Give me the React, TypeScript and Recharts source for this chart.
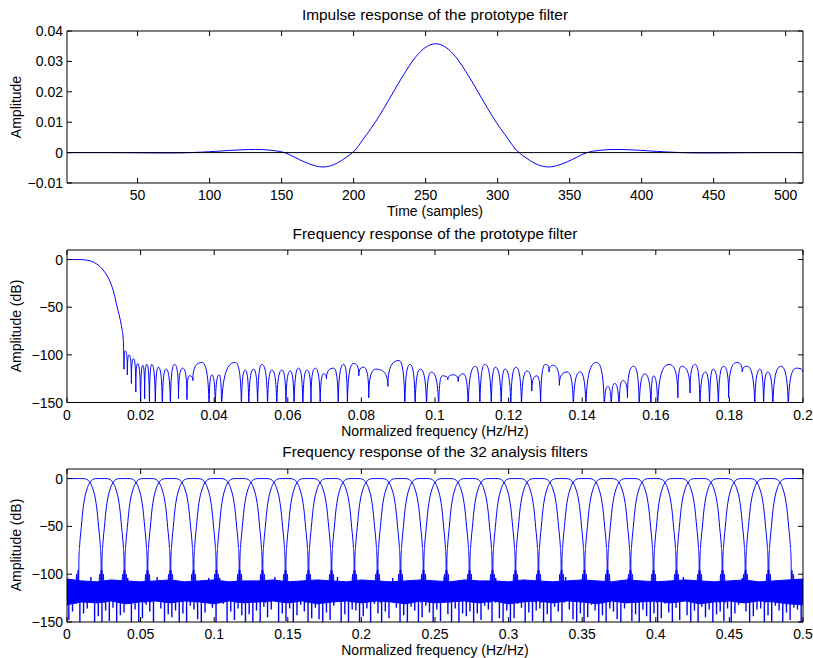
import React from 'react';
import { ComposedChart, Line, Area, XAxis, YAxis, ReferenceLine } from 'recharts';

const BLUE = '#0000ff';
const FONT = '"Liberation Sans", Arial, Helvetica, sans-serif';
const TICK_LEN = 5;

// ---- impulse response of the prototype filter ----
const IMP_T = [1, 32, 47, 62, 77, 92, 107, 117, 127, 136, 144, 152, 159, 166, 173, 180, 188, 195, 201, 206, 212, 218, 224, 230, 236, 242, 248, 253, 257,
  261, 266, 272, 278, 284, 290, 296, 302, 308, 313, 319, 326, 334, 341, 348, 355, 362, 370, 378, 387, 397, 407, 422, 437, 452, 467, 482, 512];
const IMP_V = [0, 0, -0.00005, -0.0001, -0.0001, 0.0001, 0.0005, 0.0008, 0.001, 0.001, 0.0007, 0, -0.0015, -0.0031, -0.0043, -0.0047, -0.0036, -0.0015, 0.0008, 0.004, 0.0079, 0.0122, 0.017, 0.0219, 0.0266, 0.0308, 0.0339, 0.0354, 0.0358,
  0.0354, 0.0339, 0.0308, 0.0266, 0.0219, 0.017, 0.0122, 0.0079, 0.004, 0.0008, -0.0015, -0.0036, -0.0047, -0.0043, -0.0031, -0.0015, 0, 0.0007, 0.001, 0.001, 0.0008, 0.0005, 0.0001, -0.0001, -0.0001, -0.00005, 0, 0];
const IMP_XTICKS = [50, 100, 150, 200, 250, 300, 350, 400, 450, 500];
const IMP_YTICKS = [-0.01, 0, 0.01, 0.02, 0.03, 0.04];

// ---- frequency response of the prototype filter (dB) ----
const PROTO_F = [0, 0.002, 0.004, 0.005, 0.006, 0.007, 0.008, 0.009, 0.01, 0.011, 0.012, 0.0126, 0.013, 0.0137, 0.0144, 0.0149, 0.0153,
  0.0155, 0.01587, 0.0164, 0.01687, 0.0175, 0.01805, 0.0187, 0.01923, 0.02, 0.02059, 0.0211, 0.02168, 0.0224, 0.02304, 0.024, 0.02485,
  0.0259, 0.02694, 0.0281, 0.0292, 0.0303, 0.03147, 0.0326, 0.0333, 0.0342, 0.03664, 0.0386, 0.03936, 0.0403, 0.04136, 0.042, 0.04571,
  0.0474, 0.04843, 0.0494, 0.0507, 0.0518, 0.05297, 0.0545, 0.05569, 0.057, 0.05841, 0.0595, 0.06068, 0.0617, 0.06294, 0.0641, 0.06521,
  0.0663, 0.06748, 0.0688, 0.0697, 0.0705, 0.07247, 0.0737, 0.07519, 0.0762, 0.07791, 0.0793, 0.0806, 0.082, 0.084, 0.0872, 0.0902,
  0.0918, 0.0932, 0.0946, 0.096, 0.0977, 0.099, 0.101, 0.102, 0.1035, 0.105, 0.1063, 0.1077, 0.109, 0.111, 0.1122, 0.1136, 0.1153,
  0.1164, 0.118, 0.119, 0.1206, 0.122, 0.1235, 0.125, 0.1263, 0.1277, 0.1287, 0.13, 0.131, 0.132, 0.1338, 0.136, 0.1376, 0.1394, 0.141,
  0.1439, 0.146, 0.147, 0.1479, 0.1488, 0.15, 0.151, 0.1523, 0.154, 0.1555, 0.157, 0.1587, 0.1594, 0.1605, 0.1636, 0.166, 0.167, 0.1693,
  0.1707, 0.172, 0.1735, 0.1746, 0.1756, 0.177, 0.1784, 0.1798, 0.182, 0.1835, 0.1848, 0.1869, 0.1883, 0.1893, 0.1904, 0.1918, 0.194,
  0.196, 0.1982, 0.2];
const PROTO_DB = [0, 0, -0.1, -0.4, -1.1, -2.4, -4.5, -7.5, -12, -17.5, -26, -33, -39, -51, -62, -72, -84,
  -115, -96, -121, -100, -130, -104, -139, -109, -165, -111, -146, -110, -165, -110, -165, -113,
  -165, -115, -165, -110, -146, -114, -147, -122, -127, -108, -165, -121, -165, -121, -165, -108,
  -165, -116, -165, -115, -165, -110, -165, -116, -165, -116, -160, -117, -165, -114, -165, -116,
  -150, -114, -160, -120, -125, -114, -160, -110, -160, -109, -122, -113, -145, -115, -133, -106,
  -165, -110, -165, -115, -165, -118, -165, -122, -126, -121, -128, -120, -165, -112, -165, -110, -165,
  -113, -165, -115, -165, -113, -165, -117, -138, -122, -160, -110, -118, -111, -132, -118, -165, -118, -165,
  -108, -165, -133, -165, -130, -165, -127, -145, -112, -165, -120, -165, -122, -165, -110, -145, -112, -140,
  -110, -165, -118, -165, -115, -165, -112, -145, -108, -118, -112, -165, -115, -165, -118, -165, -112,
  -165, -114, -118];
const PASSBAND_END = 0.0155;
const PROTO_XTICKS = [0, 0.02, 0.04, 0.06, 0.08, 0.1, 0.12, 0.14, 0.16, 0.18, 0.2];
const DB_TICKS = [-150, -100, -50, 0];

// ---- the 32 analysis filters ----
const CENTERS = [0.0078, 0.0234, 0.0391, 0.0547, 0.0703, 0.0859, 0.1016, 0.1172, 0.1328, 0.1484, 0.1641, 0.1797, 0.1953, 0.2109, 0.2266, 0.2422,
  0.2578, 0.2734, 0.2891, 0.3047, 0.3203, 0.3359, 0.3516, 0.3672, 0.3828, 0.3984, 0.4141, 0.4297, 0.4453, 0.4609, 0.4766, 0.4922];
const ARCH_EDGE = 0.0176;
const BAND_F = [0, 0.01, 0.02, 0.03, 0.04, 0.05, 0.06, 0.07, 0.08, 0.09, 0.1, 0.11, 0.12, 0.13, 0.14, 0.15, 0.16, 0.17, 0.18, 0.19, 0.2,
  0.21, 0.22, 0.23, 0.24, 0.25, 0.26, 0.27, 0.28, 0.29, 0.3, 0.31, 0.32, 0.33, 0.34, 0.35, 0.36, 0.37, 0.38, 0.39, 0.4,
  0.41, 0.42, 0.43, 0.44, 0.45, 0.46, 0.47, 0.48, 0.49, 0.5];
const BAND_HI = [-105, -107, -108, -106, -107, -108, -107, -106, -108, -107, -106, -108, -107, -107, -106, -108, -107, -106, -107, -108, -106,
  -107, -108, -107, -106, -107, -108, -106, -107, -107, -108, -106, -107, -108, -107, -106, -107, -108, -106, -107, -108,
  -107, -106, -107, -108, -107, -106, -108, -107, -106, -105];
const BAND_LO = [-132, -129, -130, -128, -131, -129, -128, -130, -128, -129, -131, -128, -130, -129, -128, -130, -128, -131, -129, -128, -130,
  -128, -129, -131, -128, -130, -129, -128, -130, -128, -131, -129, -128, -130, -128, -129, -131, -128, -130, -129, -128,
  -130, -128, -131, -129, -128, -130, -128, -129, -131, -132];
// excursions out of the dense floor, one every SPIKE_STEP in frequency
const SPIKE_BASE = -125;
const SPIKE_STEP = 0.0025;
const SPIKE_DB = [
  -148, -139, -131, -155, -141, -136, -103, -152, -144, -160,
  -138, -149, -135, -157, -143, -140, -104, -153, -137, -158,
  -146, -132, -139, -151, -103, -136, -156, -142, -145, -138,
  -150, -141, -159, -133, -137, -147, -154, -140, -104, -135,
  -152, -104, -131, -157, -139, -148, -136, -143, -155, -142,
  -150, -138, -160, -134, -145, -137, -103, -153, -141, -149,
  -136, -156, -143, -132, -139, -151, -146, -135, -147, -158,
  -140, -148, -133, -103, -154, -142, -150, -137, -138, -157,
  -144, -136, -152, -131, -141, -159, -139, -146, -104, -135,
  -155, -143, -150, -134, -138, -156, -145, -133, -140, -153,
  -137, -149, -103, -142, -158, -136, -151, -141, -144, -139,
  -155, -141, -148, -133, -137, -160, -104, -146, -150, -138,
  -153, -146, -131, -135, -157, -140, -149, -138, -136, -154,
  -142, -151, -134, -139, -158, -103, -137, -147, -152, -141,
  -156, -145, -132, -138, -150, -143, -155, -136, -139, -147,
  -160, -136, -104, -149, -142, -154, -137, -144, -151, -141,
  -157, -146, -131, -140, -153, -135, -148, -103, -143, -159,
  -138, -150, -134, -145, -137, -156, -142, -139, -149, -136,
  -155, -141, -132, -104, -139, -158, -144, -137, -136, -152,
  -143, -150, -133, -138, -157, -140, -148, -135, -137, -153];
const BANK_XTICKS = [0, 0.05, 0.1, 0.15, 0.2, 0.25, 0.3, 0.35, 0.4, 0.45, 0.5];

// ---- layout ----
const W = 813;
const PLOT_L = 67;
const PLOT_R = 803;
const XAXIS_H = 20;

const fmt = (v: number) => (v < 0 ? '\u2212' + String(-v) : String(v));

// sidelobes in dB: steep sides at the nulls, rounded at the peaks
const lobeCurve: any = (ctx: any) => {
  let x0 = 0;
  let y0 = 0;
  let n = 0;
  return {
    areaStart() {},
    areaEnd() {},
    lineStart() { n = 0; },
    lineEnd() {},
    point(xa: number, ya: number) {
      const x = +xa;
      const y = +ya;
      if (n === 0) ctx.moveTo(x, y);
      else {
        const dx = x - x0;
        if (y > y0) ctx.bezierCurveTo(x0 + dx * 0.5, y0, x, y0 + (y - y0) * 0.15, x, y);
        else ctx.bezierCurveTo(x0, y0 + (y - y0) * 0.85, x0 + dx * 0.5, y, x, y);
      }
      x0 = x;
      y0 = y;
      n += 1;
    },
  };
};

const impData = IMP_T.map((t, i) => ({ x: t, y: IMP_V[i] }));
const protoData = PROTO_F.map((f, i) => ({ x: f, y: PROTO_DB[i] }));
const passData = protoData.filter((d) => d.x <= PASSBAND_END);
const lobeData = protoData.filter((d) => d.x >= PASSBAND_END);
const archIdx = PROTO_F.map((_, i) => i).filter((i) => PROTO_F[i] <= ARCH_EDGE);

function filterData(k: number) {
  const c = CENTERS[k];
  const right = archIdx.map((i) => ({ x: c + PROTO_F[i], y: PROTO_DB[i] }));
  const left = archIdx.slice(1).reverse().map((i) => ({ x: c - PROTO_F[i], y: PROTO_DB[i] }));
  if (k === 0) return [{ x: 0, y: 0 }, ...right];
  if (k === CENTERS.length - 1) return [...left, right[0], { x: 0.5, y: 0 }];
  return [...left, ...right];
}

const bandData = BAND_F.map((f, i) => ({ x: f, band: [BAND_LO[i], BAND_HI[i]] }));
const spikeData = SPIKE_DB.flatMap((d, i) => {
  const f = (i + 0.5) * SPIKE_STEP;
  return [{ x: f, y: SPIKE_BASE }, { x: f, y: d }, { x: f, y: SPIKE_BASE }];
});

const txt = { fontFamily: FONT, fontSize: 14, fill: '#000' };

function BottomTick(p: any) {
  return (
    <g>
      <line x1={p.x} x2={p.x} y1={p.y} y2={p.y - TICK_LEN} stroke="#000" />
      <text x={p.x} y={p.y + 17} textAnchor="middle" {...txt}>{fmt(p.payload.value)}</text>
    </g>
  );
}
function TopTick(p: any) {
  return <line x1={p.x} x2={p.x} y1={p.y} y2={p.y + TICK_LEN} stroke="#000" />;
}
function LeftTick(p: any) {
  return (
    <g>
      <line x1={p.x} x2={p.x + TICK_LEN} y1={p.y} y2={p.y} stroke="#000" />
      <text x={p.x - 4} y={p.y + 5} textAnchor="end" {...txt}>{fmt(p.payload.value)}</text>
    </g>
  );
}
function RightTick(p: any) {
  return <line x1={p.x} x2={p.x - TICK_LEN} y1={p.y} y2={p.y} stroke="#000" />;
}

function axes(xDomain: number[], xTicks: number[], yDomain: number[], yTicks: number[]) {
  return [
    <XAxis key="xb" dataKey="x" type="number" domain={xDomain} ticks={xTicks} interval={0} allowDataOverflow
      height={XAXIS_H} tickSize={0} tickMargin={0} tickLine={false} axisLine={{ stroke: '#000' }} tick={(p: any) => <BottomTick {...p} />} />,
    <XAxis key="xt" xAxisId="top" orientation="top" dataKey="x" type="number" domain={xDomain} ticks={xTicks} interval={0} allowDataOverflow
      height={1} tickSize={0} tickMargin={0} tickLine={false} axisLine={{ stroke: '#000' }} tick={(p: any) => <TopTick {...p} />} />,
    <YAxis key="yl" type="number" domain={yDomain} ticks={yTicks} interval={0} allowDataOverflow
      width={PLOT_L} tickSize={0} tickMargin={0} tickLine={false} axisLine={{ stroke: '#000' }} tick={(p: any) => <LeftTick {...p} />} />,
    <YAxis key="yr" yAxisId="right" orientation="right" type="number" domain={yDomain} ticks={yTicks} interval={0} allowDataOverflow
      width={1} tickSize={0} tickMargin={0} tickLine={false} axisLine={{ stroke: '#000' }} tick={(p: any) => <RightTick {...p} />} />,
  ];
}

// margins so that the plot box lands on [top, bottom] inside a chart of height h
const marginFor = (top: number, bottom: number, h: number) => ({
  top: top - 1,
  right: W - PLOT_R - 1,
  bottom: h - bottom - XAXIS_H,
  left: 0,
});

const boxStyle = (top: number, h: number): React.CSSProperties => ({ position: 'absolute', left: 0, top, width: W, height: h });

export default function App() {
  return (
    <div style={{ position: 'absolute', left: 0, top: 0, width: W, height: 658, background: '#fff', overflow: 'hidden' }}>
      <div style={boxStyle(0, 230)}>
        <ComposedChart width={W} height={230} data={impData} margin={marginFor(31, 183, 230)}>
          {axes([1, 512], IMP_XTICKS, [-0.01, 0.04], IMP_YTICKS)}
          <Line dataKey="y" type="natural" stroke={BLUE} strokeWidth={1} dot={false} activeDot={false} isAnimationActive={false} />
          <ReferenceLine y={0} stroke="#000" strokeWidth={1} />
        </ComposedChart>
      </div>

      <div style={boxStyle(220, 220)}>
        <ComposedChart width={W} height={220} data={protoData} margin={marginFor(30, 182.5, 220)}>
          {axes([0, 0.2], PROTO_XTICKS, [-150, 10], DB_TICKS)}
          <Line data={passData} dataKey="y" type="monotone" stroke={BLUE} strokeWidth={1} dot={false} activeDot={false} isAnimationActive={false} />
          <Line data={lobeData} dataKey="y" type={lobeCurve} stroke={BLUE} strokeWidth={1} dot={false} activeDot={false} isAnimationActive={false} />
        </ComposedChart>
      </div>

      <div style={boxStyle(440, 218)}>
        <ComposedChart width={W} height={218} data={bandData} margin={marginFor(29, 182, 218)}>
          {axes([0, 0.5], BANK_XTICKS, [-150, 10], DB_TICKS)}
          <Area dataKey="band" type="linear" stroke={BLUE} strokeWidth={1} fill={BLUE} fillOpacity={1} dot={false} activeDot={false} isAnimationActive={false} />
          <Line data={spikeData} dataKey="y" type="linear" stroke={BLUE} strokeWidth={1.4} dot={false} activeDot={false} isAnimationActive={false} />
          {CENTERS.map((c, k) => (
            <Line key={k} data={filterData(k)} dataKey="y" type="monotone" stroke={BLUE} strokeWidth={1} dot={false} activeDot={false} isAnimationActive={false} />
          ))}
        </ComposedChart>
      </div>

      <svg width={W} height={658} style={{ position: 'absolute', left: 0, top: 0, pointerEvents: 'none' }}>
        <g fontFamily={FONT} fill="#000" textAnchor="middle">
          <text x={(PLOT_L + PLOT_R) / 2} y={19.5} fontSize={15.4}>Impulse response of the prototype filter</text>
          <text x={(PLOT_L + PLOT_R) / 2} y={216} fontSize={14}>Time (samples)</text>
          <text transform="translate(21,107) rotate(-90)" fontSize={14}>Amplitude</text>

          <text x={(PLOT_L + PLOT_R) / 2} y={238.5} fontSize={15.4}>Frequency response of the prototype filter</text>
          <text x={(PLOT_L + PLOT_R) / 2} y={435.5} fontSize={14}>Normalized frequency (Hz/Hz)</text>
          <text transform="translate(21,326) rotate(-90)" fontSize={14}>Amplitude (dB)</text>

          <text x={(PLOT_L + PLOT_R) / 2} y={457} fontSize={15.4}>Frequency response of the 32 analysis filters</text>
          <text x={(PLOT_L + PLOT_R) / 2} y={655} fontSize={14}>Normalized frequency (Hz/Hz)</text>
          <text transform="translate(21,545) rotate(-90)" fontSize={14}>Amplitude (dB)</text>
        </g>
      </svg>
    </div>
  );
}
